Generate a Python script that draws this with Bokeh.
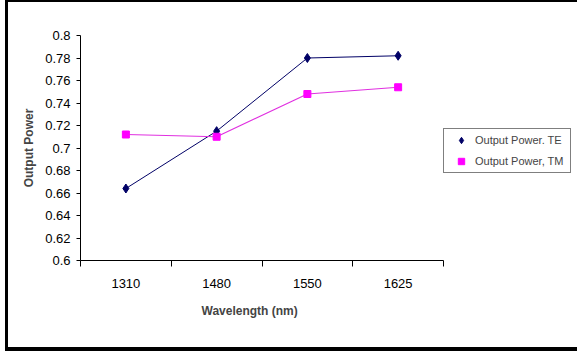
from bokeh.plotting import figure
from bokeh.models import FixedTicker, Legend, LegendItem, Title, Range1d, InlineStyleSheet
from bokeh.embed import file_html
from bokeh.resources import INLINE

wavelengths = ["1310", "1480", "1550", "1625"]
te_power = [0.664, 0.715, 0.780, 0.782]
tm_power = [0.712, 0.710, 0.748, 0.754]
y_ticks = [0.6, 0.62, 0.64, 0.66, 0.68, 0.7, 0.72, 0.74, 0.76, 0.78, 0.8]
y_tick_labels = ["0.6", "0.62", "0.64", "0.66", "0.68", "0.7", "0.72", "0.74", "0.76", "0.78", "0.8"]

FONT = "Liberation Sans"

x_pos = [i + 0.5 for i in range(len(wavelengths))]
x_bounds = [float(i) for i in range(len(wavelengths) + 1)]

p = figure(frame_width=363, frame_height=225,
           min_border_left=80, min_border_right=138, min_border_top=35, min_border_bottom=91,
           x_range=Range1d(0, len(wavelengths)), y_range=Range1d(0.6, 0.8),
           output_backend="svg", toolbar_location=None,
           background_fill_color="white", border_fill_color="white")
p.outline_line_color = None
p.xgrid.visible = False
p.ygrid.visible = False

# x axis: labels at category centres, ticks between categories
p.xaxis.ticker = FixedTicker(ticks=x_pos, minor_ticks=x_bounds)
p.xaxis.major_label_overrides = {x: w for x, w in zip(x_pos, wavelengths)}
p.xaxis.major_tick_out = 0
p.xaxis.major_tick_in = 0
p.xaxis.minor_tick_out = 6
p.xaxis.minor_tick_in = 0
p.xaxis.major_label_standoff = 12
p.xaxis.major_label_text_font = FONT
p.xaxis.major_label_text_font_size = "13px"
p.xaxis.major_label_text_color = "black"
p.xaxis.axis_line_color = "black"
p.xaxis.minor_tick_line_color = "black"

# y axis
p.yaxis.ticker = FixedTicker(ticks=y_ticks, minor_ticks=[])
p.yaxis.major_label_overrides = {t: l for t, l in zip(y_ticks, y_tick_labels)}
p.yaxis.major_tick_out = 4
p.yaxis.major_tick_in = 0
p.yaxis.minor_tick_out = 0
p.yaxis.minor_tick_in = 0
p.yaxis.major_label_standoff = 6
p.yaxis.major_label_text_font = FONT
p.yaxis.major_label_text_font_size = "13px"
p.yaxis.major_label_text_color = "black"
p.yaxis.axis_line_color = "black"
p.yaxis.major_tick_line_color = "black"
p.yaxis.axis_label = "Output Power"
p.yaxis.axis_label_text_font = FONT
p.yaxis.axis_label_text_font_size = "12px"
p.yaxis.axis_label_text_font_style = "bold"
p.yaxis.axis_label_standoff = 6

p.add_layout(Title(text="Wavelength (nm)", align="left", offset=121,
                   text_font=FONT, text_font_size="12px", text_font_style="bold",
                   standoff=23), "below")

te_color = "#000066"
tm_color = "#FF00FF"

p.line(x_pos, te_power, line_color=te_color, line_width=1)
te_sc = p.scatter(x_pos, te_power, marker="diamond", size=9, fill_color=te_color, line_color=te_color)
p.line(x_pos, tm_power, line_color="#E030E0", line_width=1.2)
tm_sc = p.scatter(x_pos, tm_power, marker="square", size=7, fill_color=tm_color, line_color=tm_color)

legend = Legend(items=[LegendItem(label="Output Power. TE", renderers=[te_sc]),
                       LegendItem(label="Output Power, TM", renderers=[tm_sc])],
                location=(0, 87), margin=0, padding=3, spacing=5,
                glyph_width=28, glyph_height=16, label_height=16, label_width=92,
                label_standoff=0,
                label_text_font=FONT, label_text_font_size="11px",
                border_line_color="black", border_line_width=1,
                background_fill_color="white", background_fill_alpha=1)
p.add_layout(legend, "right")

# outer frame of the chart area (page decoration): left, top and bottom bars
p.stylesheets = [InlineStyleSheet(css="""
:host::before {
  content: "";
  position: fixed;
  left: 5px;
  top: 0px;
  width: 3px;
  height: 351px;
  background: black;
  pointer-events: none;
  z-index: 10;
}
:host::after {
  content: "";
  position: fixed;
  box-sizing: border-box;
  left: 5px;
  top: 0px;
  width: 572px;
  height: 351px;
  border-top: 2px solid black;
  border-bottom: 4px solid black;
  pointer-events: none;
  z-index: 10;
}
""")]

open("out.html", "w").write(file_html(p, INLINE))
